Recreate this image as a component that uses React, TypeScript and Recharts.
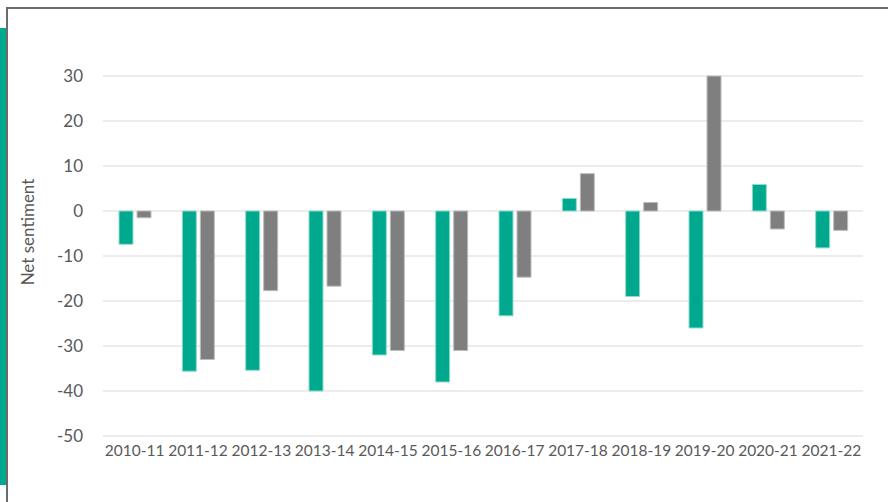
import { BarChart, Bar, XAxis, YAxis, CartesianGrid } from "recharts";

const years = [
  "2010-11", "2011-12", "2012-13", "2013-14", "2014-15", "2015-16",
  "2016-17", "2017-18", "2018-19", "2019-20", "2020-21", "2021-22",
];
const tealValues = [-7.4, -35.6, -35.4, -40, -32, -38, -23.3, 2.8, -19, -26, 5.9, -8.2];
const greyValues = [-1.5, -33, -17.7, -16.7, -31, -31, -14.7, 8.3, 1.9, 30, -4, -4.3];
const yTicks = [-50, -40, -30, -20, -10, 0, 10, 20, 30];

const data = years.map((year, i) => ({
  year,
  a: tealValues[i],
  b: greyValues[i],
}));

const font = "Lato, 'Open Sans', sans-serif";

export default function App() {
  return (
    <div
      style={{
        position: "absolute",
        left: 0,
        top: 0,
        width: 888,
        height: 502,
        background: "#fff",
        overflow: "hidden",
        fontFamily: font,
      }}
    >
      {/* teal side strip + frame */}
      <div style={{ position: "absolute", left: 0, top: 28, width: 6, height: 457, background: "#00a88e" }} />
      <div
        style={{
          position: "absolute",
          left: 6,
          top: 7,
          width: 900,
          height: 520,
          borderTop: "2px solid #6b6b6b",
          borderLeft: "2px solid #6b6b6b",
        }}
      />
      <div
        style={{
          position: "absolute",
          left: 27,
          top: 232,
          transform: "translate(-50%, -50%) rotate(-90deg)",
          fontSize: 17,
          color: "#595959",
          whiteSpace: "nowrap",
        }}
      >
        Net sentiment
      </div>

      <div style={{ position: "absolute", left: 0, top: 0 }}>
        <BarChart
          width={888}
          height={502}
          data={data}
          margin={{ top: 76, right: 25, bottom: 36, left: 33 }}
          barSize={14}
          barGap={4}
        >
          <CartesianGrid vertical={false} stroke="#d9d9d9" strokeWidth={1} />
          <XAxis
            dataKey="year"
            axisLine={false}
            tickLine={false}
            interval={0}
            height={30}
            tick={{ fontSize: 15.5, fill: "#595959", fontFamily: font }}
            tickMargin={3}
          />
          <YAxis
            domain={[-50, 30]}
            ticks={yTicks}
            axisLine={false}
            tickLine={false}
            width={70}
            tickMargin={14}
            tick={{ fontSize: 17, fill: "#595959", fontFamily: font }}
          />
          <Bar dataKey="a" fill="#00a88e" stroke="#8fdccd" strokeWidth={1} isAnimationActive={false} />
          <Bar dataKey="b" fill="#7f7f7f" stroke="#bdbdbd" strokeWidth={1} isAnimationActive={false} />
        </BarChart>
      </div>
    </div>
  );
}
